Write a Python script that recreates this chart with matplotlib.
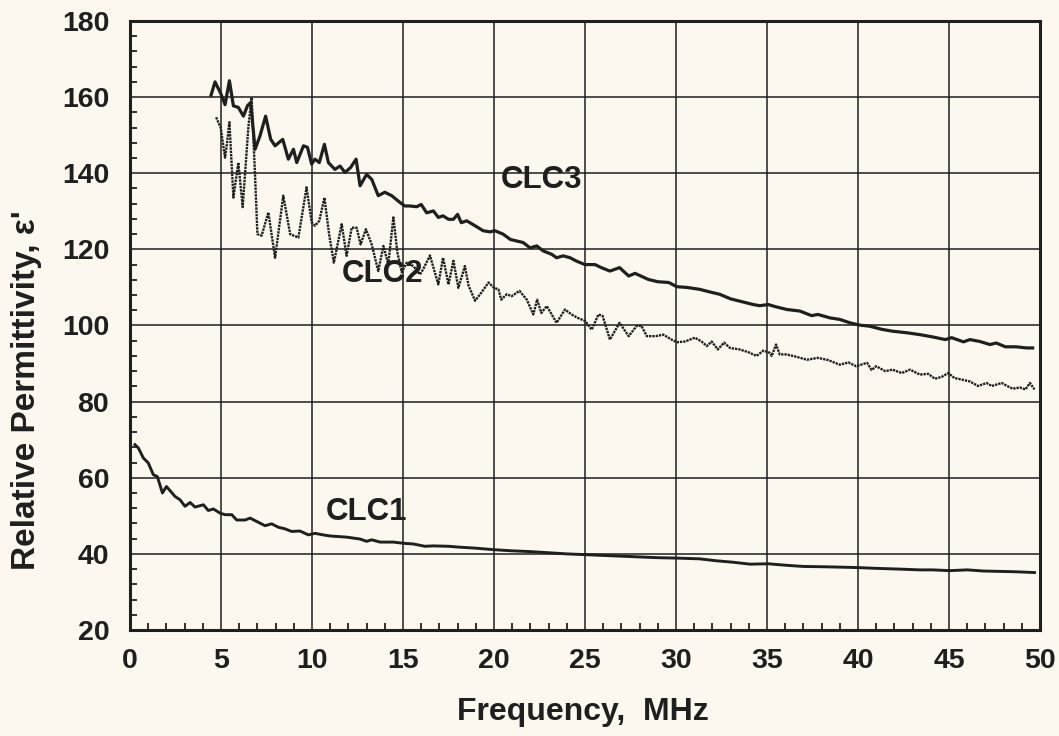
from matplotlib import pyplot as plt;
from matplotlib.ticker import MultipleLocator;
import numpy as np;

plt.rcParams['font.family'] = ['Liberation Sans', 'DejaVu Sans'];
plt.rcParams['font.weight'] = 'bold';

# CLC1 trace
clc1_f = [0.27, 0.46, 0.73, 1.0, 1.28, 1.5, 1.78, 2.0, 2.47, 2.75, 3.02, 3.3, 3.57, 4.03, 4.3, 4.58,
          4.95, 5.22, 5.59, 5.86, 6.32, 6.6, 7.05, 7.42, 7.78, 8.15, 8.5, 8.88, 9.34, 9.8, 10.16, 10.6,
          11.0, 11.9, 12.64, 13.0, 13.28, 13.74, 14.47, 15.0, 15.57, 16.2, 16.67, 17.5, 18, 19, 20, 21,
          22, 23, 24, 25, 26, 27, 28, 29, 30, 31.3, 32.2, 33.15, 34.07, 35.07, 36.08, 37, 38.3, 39.2,
          40, 41, 42.3, 43.4, 44.1, 45.05, 46, 46.9, 47.8, 48.7, 49.7];
clc1_e = [68.7, 67.8, 65.2, 63.9, 60.8, 60.3, 56, 57.7, 55.1, 54.2, 52.5, 53.5, 52.3, 52.9, 51.4, 51.8,
          50.7, 50.3, 50.3, 48.9, 48.9, 49.4, 48.3, 47.4, 47.9, 47, 46.6, 45.9, 46, 45, 45.4, 45,
          44.7, 44.4, 43.9, 43.3, 43.7, 43.1, 43.1, 42.8, 42.6, 42, 42.1, 42, 41.8, 41.5, 41.1, 40.8,
          40.6, 40.3, 40.0, 39.8, 39.6, 39.4, 39.2, 39.0, 38.9, 38.7, 38.2, 37.8, 37.3, 37.4, 37, 36.7, 36.6, 36.5,
          36.4, 36.2, 36, 35.8, 35.8, 35.6, 35.8, 35.5, 35.4, 35.3, 35.1];

# CLC2 trace (dotted)
clc2_f = [4.73, 4.98, 5.22, 5.31, 5.46, 5.68, 5.95, 6.19, 6.5, 6.68, 6.87, 7.0, 7.23, 7.6, 7.97, 8.42,
          8.8, 9.25, 9.7, 9.98, 10.16, 10.4, 10.68, 10.95, 11.2, 11.63, 11.9, 12.18, 12.45, 12.67, 12.96,
          13.28, 13.64, 13.92, 14.19, 14.47, 14.69, 14.93, 15.2, 15.57, 15.93, 16.1, 16.48, 16.94, 17.2,
          17.5, 17.77, 18.04, 18.4, 18.6, 18.96, 19.3, 19.7, 20.0, 20.24, 20.4, 20.7, 20.97, 21.4, 21.8,
          22.16, 22.37, 22.6, 22.9, 23.17, 23.44, 23.9, 24.26, 24.6, 25.0, 25.37, 25.74, 25.97, 26.37,
          26.9, 27.4, 27.84, 28.1, 28.4, 28.9, 29.3, 29.76, 30.04, 30.5, 31.04, 31.4, 31.7, 31.96, 32.3,
          32.64, 32.97, 33.5, 33.97, 34.43, 34.8, 35.16, 35.26, 35.5, 35.7, 36.07, 36.6, 37.2, 37.8,
          38.37, 39.0, 39.47, 39.9, 40.5, 40.75, 41.0, 41.5, 41.9, 42.4, 42.86, 43.4, 43.86, 44.23,
          44.6, 44.96, 45.3, 45.7, 46.15, 46.6, 47.07, 47.35, 47.9, 48.2, 48.5, 48.9, 49.2, 49.45, 49.7];
clc2_e = [154.7, 152, 144.1, 147.2, 153.4, 133.6, 142.8, 131.1, 152, 159.9, 139.4, 124, 123.6, 129.7, 117.8, 134.1,
          124, 123.1, 136.3, 127.1, 126.2, 127.5, 133.6, 123.6, 116.5, 126.6, 118.3, 125.7, 125.7, 121.3, 125.3,
          121.3, 114.3, 120.9, 116.1, 128.4, 119.2, 114, 116.5, 115.6, 113.4, 114.7, 118.4, 110.8, 117.8,
          110.8, 117, 109.9, 115.6, 110.5, 106.5, 108.6, 111.3, 109.9, 109.5, 106.8, 108.2, 107.7, 109.1, 106.8,
          102.9, 106.8, 103.3, 105.1, 102.9, 100.7, 104.2, 102.9, 102, 101.2, 98.9, 102.9, 102.5, 96.3,
          100.7, 97.2, 99.9, 99.9, 97.2, 97.2, 97.6, 96.3, 95.6, 95.8, 96.8, 95.8, 94.6, 95.8, 93.7,
          95.5, 94.1, 93.7, 93, 92, 93.4, 92.8, 92, 95, 92.4, 92.4, 91.8, 91, 91.5,
          90.9, 89.7, 90.3, 89.3, 90.2, 88.3, 89.3, 88, 88.4, 87.5, 88.4, 87.1, 87.3, 86,
          86.5, 87.5, 86.2, 85.8, 85.3, 84.1, 84.9, 84.1, 84.9, 84.1, 83.4, 83.7, 83.2, 84.9, 83.2];

# CLC3 trace
clc3_f = [4.45, 4.67, 4.98, 5.22, 5.46, 5.68, 5.95, 6.23, 6.45, 6.63, 6.87, 7.14, 7.45, 7.73, 7.97, 8.39,
          8.7, 8.98, 9.16, 9.53, 9.75, 9.98, 10.16, 10.4, 10.68, 10.9, 11.26, 11.54, 11.81, 12.12, 12.42,
          12.64, 13.0, 13.28, 13.64, 14.0, 14.38, 14.84, 15.1, 15.38, 15.75, 16.0, 16.3, 16.67, 16.94,
          17.2, 17.5, 17.77, 18.0, 18.2, 18.5, 18.96, 19.4, 19.78, 20.05, 20.5, 20.9, 21.25, 21.6, 21.98,
          22.35, 22.7, 23.17, 23.44, 23.8, 24.18, 24.54, 25.0, 25.55, 25.9, 26.37, 26.9, 27.4, 27.75,
          28.48, 29.0, 29.6, 30.04, 30.6, 31.3, 31.87, 32.4, 33.0, 33.5, 34.25, 34.6, 35.07, 35.5, 36.1,
          36.8, 37.45, 37.8, 38.46, 39.0, 39.56, 40.1, 40.66, 41.3, 41.9, 42.67, 43.4, 44.1, 44.8, 45.15,
          45.8, 46.15, 46.7, 47.25, 47.6, 48.1, 48.7, 49.27, 49.6];
clc3_e = [160.5, 164, 161, 158, 164.3, 157.7, 157.3, 155, 157.7, 158.6, 146.3, 149.8, 155, 148.9, 147.2, 148.9,
          143.7, 146.3, 142.8, 147.2, 146.8, 142.4, 143.7, 142.8, 147.6, 142.8, 141, 141.9, 140.2, 141.5, 143.7,
          136.7, 139.7, 138.4, 134.1, 135, 134.1, 132.3, 131.4, 131.4, 131.2, 131.8, 129.6, 130.1, 128.4,
          128.8, 127.9, 127.9, 129.2, 127, 127.5, 126.2, 124.9, 124.6, 124.9, 124, 122.6, 122.2, 121.8, 120.4,
          120.9, 119.6, 118.7, 117.8, 118.3, 117.8, 116.9, 116, 116, 115.2, 114.3, 115.2, 113, 113.7,
          112.1, 111.5, 111.3, 110.2, 110, 109.5, 108.8, 108.2, 107, 106.4, 105.5, 105.2, 105.5, 104.9, 104.2,
          103.8, 102.6, 102.9, 102, 101.6, 100.7, 100.1, 99.8, 99, 98.5, 98.1, 97.6, 97, 96.3, 96.8,
          95.7, 96.3, 95.8, 95, 95.4, 94.4, 94.4, 94.1, 94.1];

labels = ["CLC1", "CLC2", "CLC3"];
label_pos = [(13.0, 51.0), (13.9, 113.4), (22.6, 138.2)];

bg = '#fcf8f0';
ink = '#1f1f1f';

fig = plt.figure(figsize = (10.59, 7.36), dpi = 100, facecolor = bg);
ax = fig.add_axes([0.1228, 0.144, 0.8592, 0.8275]);
ax.set_facecolor(bg);

ax.plot(clc1_f, clc1_e, color = ink, lw = 2.1, solid_joinstyle = 'round');
ax.plot(clc2_f, clc2_e, color = ink, lw = 1.7, linestyle = (0, (1.0, 0.4)));
ax.plot(clc3_f, clc3_e, color = ink, lw = 2.3, solid_joinstyle = 'round');

for name, (xx, yy) in zip(labels, label_pos):
    ax.text(xx, yy, name, fontsize = 22.5, fontweight = 'bold', color = ink, ha = 'center', va = 'center');

ax.set_xlim(0, 50);
ax.set_ylim(20, 180);
ax.xaxis.set_major_locator(MultipleLocator(5));
ax.xaxis.set_minor_locator(MultipleLocator(1));
ax.yaxis.set_major_locator(MultipleLocator(20));
ax.yaxis.set_minor_locator(MultipleLocator(4));
ax.grid(True, which = 'major', color = ink, lw = 1.1);
ax.set_axisbelow(True);

ax.tick_params(which = 'major', length = 0, labelsize = 20.5, colors = ink);
ax.tick_params(axis = 'x', which = 'major', pad = 13);
ax.tick_params(axis = 'y', which = 'major', pad = 15);
ax.tick_params(which = 'minor', direction = 'in', length = 5, width = 1.3, color = ink);
for s in ax.spines.values():
    s.set_linewidth(2.2);
    s.set_color(ink);

ax.set_xlabel("Frequency,  MHz", fontsize = 23, fontweight = 'bold', color = ink);
ax.set_ylabel("Relative Permittivity, ε'", fontsize = 24, fontweight = 'bold', color = ink);
ax.xaxis.set_label_coords(0.498, -0.11);
ax.yaxis.set_label_coords(-0.097, 0.394);

fig.savefig("out.png", dpi = 100, facecolor = bg);
